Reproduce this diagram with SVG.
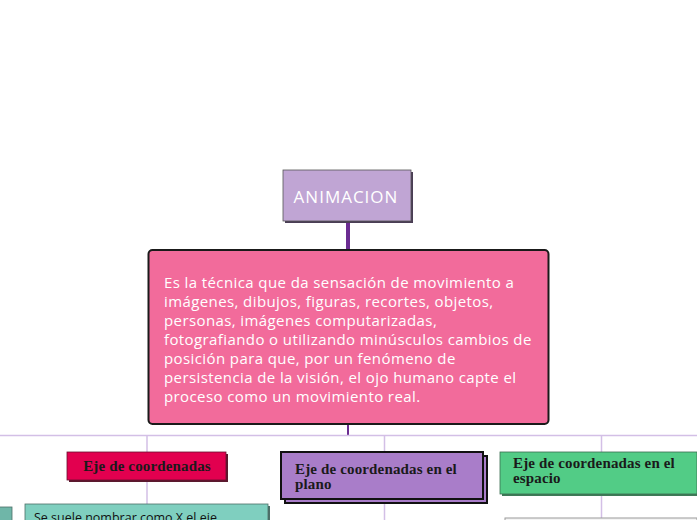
<svg xmlns="http://www.w3.org/2000/svg" width="697" height="520" viewBox="0 0 697 520">
<style>
.conn{fill:none;stroke:#d3bfe6;stroke-width:1.5}
.main{font-family:"Open Sans","Noto Sans",sans-serif;font-size:15px;letter-spacing:0.4px;fill:#ffffff}
.title{font-family:"Liberation Serif","DejaVu Serif",serif;font-weight:bold;font-size:15px;letter-spacing:0.15px;fill:#1a1a1a}
.small{font-family:"Open Sans","Noto Sans",sans-serif;font-size:12.5px;fill:#111}
</style>
<rect width="697" height="520" fill="#ffffff"/>
<g id="connectors">
<line x1="348" y1="221" x2="348" y2="250" stroke="#6b2c91" stroke-width="4"/>
<line x1="348" y1="424" x2="348" y2="435" stroke="#6b2c91" stroke-width="2"/>
<line class="conn" x1="0" y1="435.5" x2="697" y2="435.5"/>
<line class="conn" x1="147" y1="435" x2="147" y2="505"/>
<line class="conn" x1="384.5" y1="435" x2="384.5" y2="520"/>
<line class="conn" x1="601.5" y1="435" x2="601.5" y2="519"/>
</g>
<g id="animacion">
<rect x="285" y="172" width="128" height="51" fill="#4a3d55"/>
<rect x="283" y="170" width="128" height="51" fill="#c0a5d4" stroke="#555" stroke-width="0.8"/>
<text x="346" y="203" text-anchor="middle" font-family="'Open Sans','Noto Sans',sans-serif" font-size="17" letter-spacing="1" fill="#ffffff">ANIMACION</text>
</g>
<g id="definicion">
<rect x="148.5" y="250" width="400" height="174" rx="4" fill="#f26b9b" stroke="#1a1a1a" stroke-width="2"/>
<text class="main">
<tspan x="164" y="288">Es la técnica que da sensación de movimiento a</tspan>
<tspan x="164" y="307">imágenes, dibujos, figuras, recortes, objetos,</tspan>
<tspan x="164" y="326">personas, imágenes computarizadas,</tspan>
<tspan x="164" y="345">fotografiando o utilizando minúsculos cambios de</tspan>
<tspan x="164" y="364">posición para que, por un fenómeno de</tspan>
<tspan x="164" y="383">persistencia de la visión, el ojo humano capte el</tspan>
<tspan x="164" y="402">proceso como un movimiento real.</tspan>
</text>
</g>
<g id="eje-coordenadas">
<rect x="69" y="454" width="159" height="28" fill="#5a1a2e"/>
<rect x="67" y="452" width="159" height="28" fill="#e2004f" stroke="#6a1030" stroke-width="0.8"/>
<text class="title" x="147" y="471" text-anchor="middle">Eje de coordenadas</text>
</g>
<g id="eje-plano">
<rect x="285" y="456" width="202" height="47" fill="#a97dc9" stroke="#111" stroke-width="2"/>
<rect x="281" y="452" width="202" height="47" fill="#a97dc9" stroke="#111" stroke-width="2"/>
<text class="title"><tspan x="295" y="474">Eje de coordenadas en el</tspan><tspan x="295" y="489">plano</tspan></text>
</g>
<g id="eje-espacio">
<rect x="502" y="454" width="197" height="42" fill="#3f7a58"/>
<rect x="500" y="452" width="197" height="42" fill="#52cc86" stroke="#3a6e50" stroke-width="0.8"/>
<text class="title"><tspan x="513" y="468">Eje de coordenadas en el</tspan><tspan x="513" y="483">espacio</tspan></text>
</g>
<g id="nodo-x">
<rect x="27" y="506" width="243" height="30" fill="#4d6f68"/>
<rect x="25" y="504" width="243" height="30" fill="#7fcfbf" stroke="#4d6f68" stroke-width="0.8"/>
<text class="small" x="34" y="522">Se suele nombrar como X el eje</text>
</g>
<g id="nodo-izq">
<rect x="-10" y="507" width="22" height="30" fill="#6fb6a8" stroke="#4d6f68" stroke-width="0.8"/>
</g>
<g id="nodo-espacio-hijo">
<rect x="505" y="518" width="192" height="20" fill="#f4f4f4" stroke="#9a9a9a" stroke-width="1"/>
</g>
</svg>
